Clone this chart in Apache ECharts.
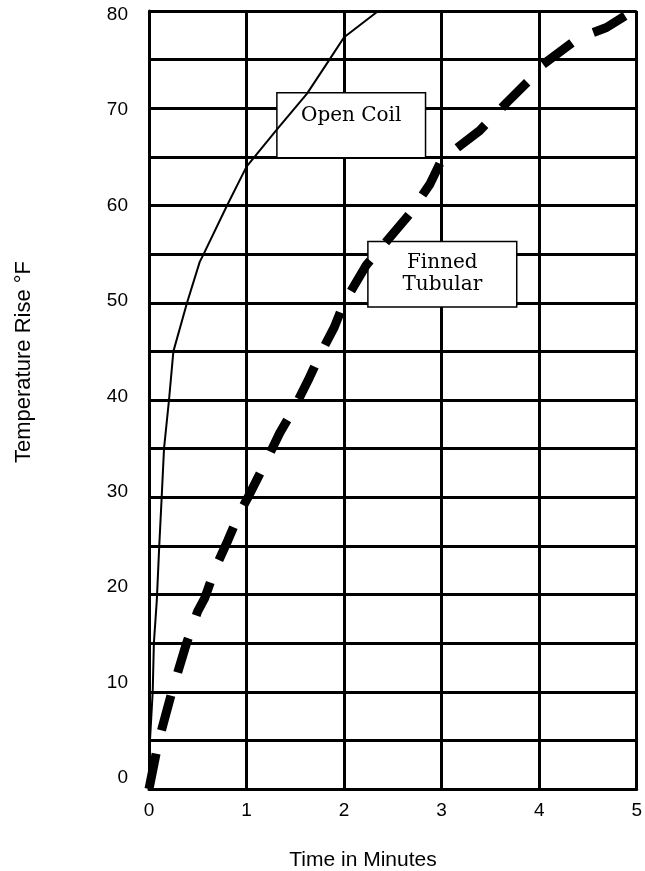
<!DOCTYPE html>
<html>
<head>
<meta charset="utf-8">
<script src="https://cdn.jsdelivr.net/npm/echarts@6/dist/echarts.min.js"></script>
<style>
html,body{margin:0;padding:0;background:#fff;}
#chart{width:645px;height:871px;}
</style>
</head>
<body>
<div id="chart"></div>
<script>
// ---- data ----
const xTickLabels = [0, 1, 2, 3, 4, 5];
const yTickLabels = [0, 10, 20, 30, 40, 50, 60, 70, 80];

const openCoilTime = [0, 0.01, 0.038, 0.05, 0.08, 0.105, 0.13, 0.154, 0.205, 0.25, 0.39, 0.52, 0.56, 0.80, 1.0, 1.31, 1.62, 1.85, 2.0, 2.35];
const openCoilRise = [0, 5, 10, 15, 19.4, 25, 30, 35, 40, 45, 50, 54.2, 55, 60, 64, 67.8, 71.5, 75, 77.3, 80];

const finnedTime = [0, 0.1, 0.235, 0.385, 0.5, 0.57, 0.68, 0.81, 0.92, 1.01, 1.2, 1.34, 1.49, 1.63, 1.76, 1.9, 2.0, 2.23, 2.67, 2.88, 3.0, 3.39, 3.67, 3.92, 4.0, 4.4, 4.69, 4.96, 5.0];
const finnedRise = [0, 5, 10, 15, 18.3, 19.6, 22.7, 25.6, 28.2, 29.9, 33.7, 36.6, 39.2, 42, 44.8, 47.5, 50, 53.9, 59.1, 62.2, 64.7, 67.7, 70.6, 73.1, 74.2, 77.2, 78.3, 80, 80.3];

const openCoilLabel = ['Open Coil'];
const finnedLabel = ['Finned', 'Tubular'];
// annotation boxes in data coordinates [x1, y1, x2, y2]
const openCoilBox = [1.311, 71.6, 2.835, 64.9];
const finnedBox = [2.244, 56.3, 3.77, 49.56];

const xName = 'Time in Minutes';
const yName = 'Temperature Rise °F';

// ---- chart ----
const chart = echarts.init(document.getElementById('chart'), null, {renderer: 'canvas'});
const zip = (a, b) => a.map((v, i) => [v, b[i]]);
const black = '#000';
const sans = '"Liberation Sans", Arial, sans-serif';
const serif = '"DejaVu Serif", serif';

chart.setOption({
  animation: false,
  backgroundColor: '#fff',
  grid: {left: 149, right: 8, top: 11, bottom: 82, containLabel: false},
  xAxis: {
    type: 'value', min: 0, max: 5, interval: 1,
    axisLine: {show: true, lineStyle: {color: black, width: 3}},
    axisTick: {show: false},
    splitLine: {show: true, lineStyle: {color: black, width: 3}},
    axisLabel: {color: black, fontSize: 19, fontFamily: sans, margin: 12,
      formatter: v => xTickLabels.includes(v) ? String(v) : ''}
  },
  yAxis: [
    {
      type: 'value', min: 0, max: 80, interval: 5,
      axisLine: {show: true, lineStyle: {color: black, width: 3}},
      axisTick: {show: false},
      splitLine: {show: true, lineStyle: {color: black, width: 3}},
      axisLabel: {show: false}
    },
    {
      type: 'value', min: -1.15, max: 80.4, position: 'left',
      axisLine: {show: false}, axisTick: {show: false}, splitLine: {show: false},
      axisLabel: {color: black, fontSize: 19, fontFamily: sans, margin: 21,
        customValues: yTickLabels,
        formatter: v => yTickLabels.includes(v) ? String(v) : ''}
    }
  ],
  series: [
    {
      name: 'Open Coil', type: 'line', data: zip(openCoilTime, openCoilRise),
      symbol: 'none', clip: true, z: 3,
      lineStyle: {color: black, width: 2}
    },
    {
      name: 'Finned Tubular', type: 'line', data: zip(finnedTime, finnedRise),
      symbol: 'none', clip: true, z: 3,
      lineStyle: {color: black, width: 9, type: [36, 24], cap: 'butt'}
    }
  ]
});

function boxGraphic(box, lines, topPad) {
  const p1 = chart.convertToPixel({seriesIndex: 0}, [box[0], box[1]]);
  const p2 = chart.convertToPixel({seriesIndex: 0}, [box[2], box[3]]);
  const w = p2[0] - p1[0], h = p2[1] - p1[1];
  const children = [{
    type: 'rect', shape: {x: p1[0], y: p1[1], width: w, height: h},
    style: {fill: '#fff', stroke: black, lineWidth: 1.5}
  }];
  const lh = 22;
  const startY = topPad != null ? p1[1] + topPad : p1[1] + h / 2 - (lines.length - 1) * lh / 2;
  lines.forEach((t, i) => {
    children.push({
      type: 'text',
      style: {text: t, x: p1[0] + w / 2, y: startY + i * lh, align: 'center', verticalAlign: 'middle',
        font: '20px ' + serif, fill: black}
    });
  });
  return {type: 'group', z: 50, children};
}

chart.setOption({
  graphic: [
    boxGraphic(openCoilBox, openCoilLabel, 23),
    boxGraphic(finnedBox, finnedLabel, null),
    {type: 'text', z: 50, style: {text: xName, x: 363, y: 860, align: 'center', verticalAlign: 'middle',
      font: '21px ' + sans, fill: black}},
    {type: 'text', z: 50, x: 23.5, y: 362, rotation: Math.PI / 2,
      style: {text: yName, x: 0, y: 0, align: 'center', verticalAlign: 'middle',
      font: '22px ' + sans, fill: black}}
  ]
});
</script>
</body>
</html>
